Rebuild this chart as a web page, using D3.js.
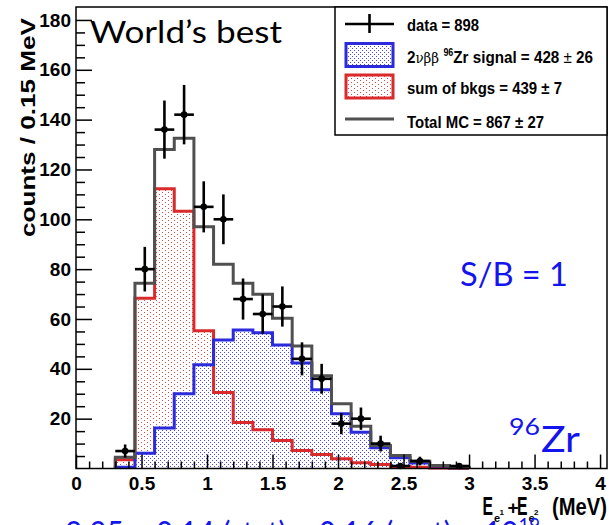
<!DOCTYPE html>
<html><head><meta charset="utf-8">
<script src="https://cdn.jsdelivr.net/npm/d3@7"></script>
<style>
html,body{margin:0;padding:0;background:#fff;}
svg{display:block;}
.tk{font-family:"Liberation Sans Narrow","Arial Narrow","Liberation Sans",sans-serif;font-weight:bold;}
</style></head>
<body><svg id="c" width="609" height="525"></svg>
<script>
// ---- data ----
const binLow = [0.30,0.45,0.60,0.75,0.90,1.05,1.20,1.35,1.50,1.65,1.80,1.95,2.10,2.25,2.40,2.55,2.70,2.85];
const binWidth = 0.15;
const totalMC = [4.5,74.3,128,132.5,97,82,74.3,69.9,60.3,49.2,37.2,26,17,9.2,5.2,2.9,1.2,0.3];
const bkgs    = [3.5,68.3,112.3,103.2,55.3,30.5,18.5,15.6,11.2,7.2,5.6,3.9,2.3,1.6,0.8,0.5,0.2,0.1];
const signal  = [0.5,6.1,16.3,30,41.6,51.6,55.6,54.5,49.6,42.3,31.6,22,14.5,8.3,4.3,2.2,1.0,0.3];
const dataCounts = [7,80,136,142,105,100,68,62,65,44,36,18,20,10,1,3,0,1];
const xTicks = [0,0.5,1,1.5,2,2.5,3,3.5,4];
const yTicks = [20,40,60,80,100,120,140,160,180];
const legendLabels = ["data = 898","signal","sum of bkgs = 439 \u00b1 7","Total MC = 867 \u00b1 27"];

const svg = d3.select("#c");
const x = d3.scaleLinear().domain([0,4.053]).range([76,607]);
const y = d3.scaleLinear().domain([0,185.2]).range([468.5,7]);

const RED="#d92b2b", BLUE="#2b2bdc", GRAY="#505050", TXTBLUE="#1414ee";

// patterns
const defs = svg.append("defs");
const pr = defs.append("pattern").attr("id","pr").attr("patternUnits","userSpaceOnUse").attr("width",6).attr("height",4);
pr.append("rect").attr("width",6).attr("height",4).attr("fill","#fff");
pr.append("rect").attr("x",0).attr("y",0).attr("width",1).attr("height",1).attr("fill","#e04848");
pr.append("rect").attr("x",3).attr("y",2).attr("width",1).attr("height",1).attr("fill","#e04848");
const pb = defs.append("pattern").attr("id","pb").attr("patternUnits","userSpaceOnUse").attr("width",4).attr("height",4);
pb.append("rect").attr("width",4).attr("height",4).attr("fill","#fff");
pb.append("rect").attr("x",0).attr("y",0).attr("width",1).attr("height",1).attr("fill","#4a4ae6");
pb.append("rect").attr("x",2).attr("y",2).attr("width",1).attr("height",1).attr("fill","#4a4ae6");

function stepPts(vals){
  const pts=[[binLow[0],0]];
  vals.forEach((v,i)=>{pts.push([binLow[i],v]);pts.push([binLow[i]+binWidth,v]);});
  pts.push([binLow[binLow.length-1]+binWidth,0]);
  return pts;
}
const line = d3.line().x(d=>x(d[0])).y(d=>y(d[1]));
const area = d3.area().x(d=>x(d[0])).y0(y(0)).y1(d=>y(d[1]));

// fills
svg.append("path").attr("d",area(stepPts(bkgs))).attr("fill","url(#pr)");
svg.append("path").attr("d",area(stepPts(signal))).attr("fill","url(#pb)");
// outlines
svg.append("path").attr("d",line(stepPts(bkgs))).attr("fill","none").attr("stroke",RED).attr("stroke-width",3);
svg.append("path").attr("d",line(stepPts(signal))).attr("fill","none").attr("stroke",BLUE).attr("stroke-width",3);
svg.append("path").attr("d",line(stepPts(totalMC))).attr("fill","none").attr("stroke",GRAY).attr("stroke-width",3);

// data points
const dg = svg.append("g");
dataCounts.forEach((n,i)=>{
  if(n<=0) return;
  const cx = binLow[i]+binWidth/2, e=Math.sqrt(n);
  dg.append("line").attr("x1",x(binLow[i])).attr("x2",x(binLow[i]+binWidth)).attr("y1",y(n)).attr("y2",y(n)).attr("stroke","#000").attr("stroke-width",2.6);
  dg.append("line").attr("x1",x(cx)).attr("x2",x(cx)).attr("y1",y(Math.max(0,n-e))).attr("y2",y(n+e)).attr("stroke","#000").attr("stroke-width",2.6);
  dg.append("circle").attr("cx",x(cx)).attr("cy",y(n)).attr("r",3.3).attr("fill","#000");
});

// axes
const yMinor = d3.range(5,185,5).filter(v=>v%20!==0);
const xMinor = d3.range(0,4.05,0.1).map(v=>Math.round(v*10)/10).filter(v=>Math.abs(v*2-Math.round(v*2))>1e-6);
const gy = svg.append("g").attr("transform","translate(76,0)");
gy.call(d3.axisLeft(y).tickValues(yTicks).tickSizeInner(-16).tickSizeOuter(0).tickPadding(5).tickFormat(d3.format("d")));
gy.append("g").call(d3.axisLeft(y).tickValues(yMinor).tickSizeInner(-9).tickSizeOuter(0).tickFormat(""));
const gx = svg.append("g").attr("transform","translate(0,468.5)");
gx.call(d3.axisBottom(x).tickValues(xTicks).tickSizeInner(-14).tickSizeOuter(0).tickPadding(8).tickFormat(d=>String(d)));
gx.append("g").call(d3.axisBottom(x).tickValues(xMinor).tickSizeInner(-7).tickSizeOuter(0).tickFormat(""));
svg.selectAll(".domain").remove();
svg.selectAll(".tick line").attr("stroke","#000").attr("stroke-width",1.5);
svg.selectAll(".tick text").attr("class","tk").attr("font-size",19).attr("fill","#000");

// frame
svg.append("rect").attr("x",x(0)).attr("y",y(185.2)).attr("width",x(4.053)-x(0)).attr("height",y(0)-y(185.2))
  .attr("fill","none").attr("stroke","#000").attr("stroke-width",1.5);

// axis titles
svg.append("text").attr("class","tk").attr("transform","translate(35,237) rotate(-90)")
  .attr("font-size",21).attr("textLength",219).attr("lengthAdjust","spacingAndGlyphs").text("counts / 0.15 MeV");
const xt = svg.append("g").attr("class","tk").attr("fill","#000");
xt.append("text").attr("x",482.5).attr("y",515).attr("font-size",25).attr("textLength",10.5).attr("lengthAdjust","spacingAndGlyphs").text("E");
xt.append("text").attr("x",494).attr("y",522).attr("font-size",11).text("e");
xt.append("text").attr("x",499.5).attr("y",515).attr("font-size",8).text("1");
xt.append("text").attr("x",507.5).attr("y",514).attr("font-size",19).text("+");
xt.append("text").attr("x",517).attr("y",515).attr("font-size",25).attr("textLength",10.5).attr("lengthAdjust","spacingAndGlyphs").text("E");
xt.append("text").attr("x",528.5).attr("y",522).attr("font-size",11).text("e");
xt.append("text").attr("x",534).attr("y",515).attr("font-size",8).text("2");
xt.append("text").attr("x",552).attr("y",515).attr("font-size",24).attr("textLength",55).attr("lengthAdjust","spacingAndGlyphs").text("(MeV)");

// legend
const lg = svg.append("g");
lg.append("rect").attr("x",335).attr("y",7).attr("width",272).attr("height",128).attr("fill","#fff").attr("stroke","#000").attr("stroke-width",1.5);
lg.append("line").attr("x1",345).attr("x2",394).attr("y1",24).attr("y2",24).attr("stroke","#000").attr("stroke-width",2.6);
lg.append("line").attr("x1",369.5).attr("x2",369.5).attr("y1",14).attr("y2",33).attr("stroke","#000").attr("stroke-width",2.6);
lg.append("rect").attr("x",346).attr("y",43.5).attr("width",47).attr("height",23).attr("fill","url(#pb)").attr("stroke",BLUE).attr("stroke-width",3);
lg.append("rect").attr("x",346).attr("y",75).attr("width",47).attr("height",23).attr("fill","url(#pr)").attr("stroke",RED).attr("stroke-width",3);
lg.append("line").attr("x1",345).attr("x2",394).attr("y1",119).attr("y2",119).attr("stroke",GRAY).attr("stroke-width",3);
lg.append("text").attr("class","tk").attr("x",407).attr("y",31).attr("font-size",17).attr("textLength",72).attr("lengthAdjust","spacingAndGlyphs").text(legendLabels[0]);
const t2 = lg.append("text").attr("class","tk").attr("x",407).attr("y",63).attr("font-size",17).attr("textLength",186).attr("lengthAdjust","spacingAndGlyphs");
t2.append("tspan").text("2");
t2.append("tspan").attr("font-weight","normal").attr("font-family","'DejaVu Serif',serif").attr("font-size",15).text("\u03bd\u03b2\u03b2 ");
t2.append("tspan").attr("font-size",10).attr("dy",-7).text("96");
t2.append("tspan").attr("dy",7).text("Zr signal = 428 ");
t2.append("tspan").attr("font-weight","normal").text("\u00b1");
t2.append("tspan").text(" 26");
lg.append("text").attr("class","tk").attr("x",407).attr("y",94).attr("font-size",17).attr("textLength",155).attr("lengthAdjust","spacingAndGlyphs").text(legendLabels[2]);
lg.append("text").attr("class","tk").attr("x",407).attr("y",128).attr("font-size",17).attr("textLength",137).attr("lengthAdjust","spacingAndGlyphs").text(legendLabels[3]);

// annotations
const ann = "Lato, 'Open Sans', sans-serif";
svg.append("text").attr("x",90).attr("y",42.5).attr("font-family",ann).attr("font-size",31).attr("fill","#000")
  .attr("textLength",192).attr("lengthAdjust","spacingAndGlyphs").text("World\u2019s best");
svg.append("text").attr("x",460).attr("y",286).attr("font-family",ann).attr("font-size",32).attr("fill",TXTBLUE)
  .attr("textLength",108).attr("lengthAdjust","spacingAndGlyphs").text("S/B = 1");
svg.append("text").attr("x",509).attr("y",435).attr("font-family",ann).attr("font-size",23).attr("fill",TXTBLUE)
  .attr("textLength",31).attr("lengthAdjust","spacingAndGlyphs").text("96");
svg.append("text").attr("x",541).attr("y",452).attr("font-family",ann).attr("font-size",37).attr("fill",TXTBLUE)
  .attr("textLength",39).attr("lengthAdjust","spacingAndGlyphs").text("Zr");
const bt = svg.append("text").attr("x",65).attr("y",545).attr("font-family",ann).attr("font-size",32).attr("fill",TXTBLUE)
  .attr("textLength",475).attr("lengthAdjust","spacingAndGlyphs");
bt.append("tspan").text("2.35 \u00b1 0.14 (stat) \u00b1 0.16 (syst) \u00d7 10");
bt.append("tspan").attr("font-size",20).attr("dy",-13).text("19");
</script></body></html>
